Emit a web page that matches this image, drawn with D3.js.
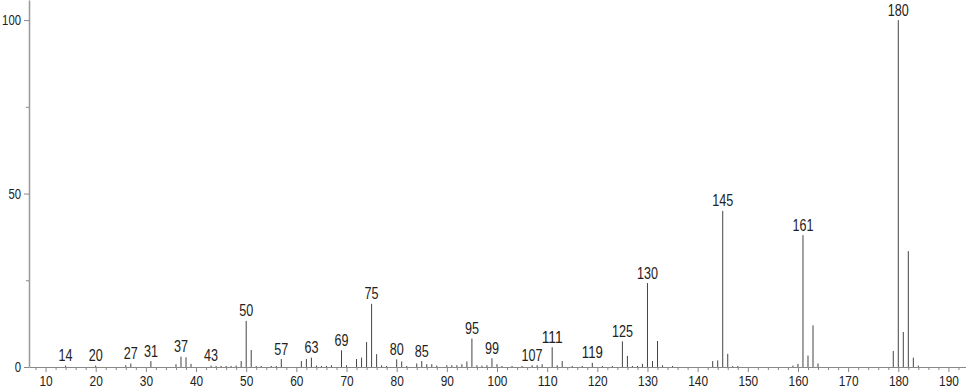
<!DOCTYPE html>
<html>
<head>
<meta charset="utf-8">
<script src="https://cdn.jsdelivr.net/npm/d3@7"></script>
<style>
  html, body { margin: 0; padding: 0; background: #fff; }
  svg text { font-family: "Liberation Sans", "DejaVu Sans", sans-serif; fill: #222; }
</style>
</head>
<body>
<div id="chart"></div>
<script>
// m/z values and relative intensities (%)
const masses = [14, 20, 26, 27, 31, 36, 37, 38, 39, 43, 44, 45, 46, 47, 48, 49, 50, 51, 52, 53, 55, 56, 57,
  61, 62, 63, 64, 65, 66, 67, 69, 70, 72, 73, 74, 75, 76, 77, 78, 80, 81, 82, 84, 85, 86, 87, 88,
  90, 91, 92, 93, 94, 95, 96, 97, 98, 99, 100, 101, 103, 105, 107, 108, 109, 111, 112, 113, 115, 117,
  119, 121, 123, 125, 126, 127, 128, 129, 130, 131, 132, 133, 135, 143, 144, 145, 146, 147, 148,
  159, 160, 161, 162, 163, 164, 179, 180, 181, 182, 183, 184];
const intensities = [0.4, 0.4, 0.5, 1.0, 1.7, 0.8, 3.0, 2.8, 0.9, 0.4, 0.3, 0.3, 0.3, 0.3, 0.4, 1.7, 13.3, 4.9, 0.3, 0.3, 0.3, 0.3, 2.3,
  1.7, 2.3, 2.7, 0.4, 0.3, 0.3, 0.5, 4.8, 0.5, 2.3, 2.7, 7.2, 18.2, 3.7, 0.5, 0.3, 2.2, 1.6, 0.3, 1.0, 1.7, 0.8, 0.8, 0.4,
  0.5, 0.5, 0.5, 0.8, 1.6, 8.2, 0.5, 0.4, 0.5, 2.5, 0.8, 0.3, 0.3, 0.3, 0.5, 0.5, 0.8, 5.7, 0.5, 1.7, 0.3, 0.3,
  1.2, 0.3, 0.3, 7.4, 3.2, 0.3, 0.3, 0.9, 24.2, 1.7, 7.5, 0.5, 0.3, 1.7, 1.9, 45.0, 3.8, 0.3, 0.3,
  0.4, 0.9, 38.0, 3.3, 12.0, 1.0, 4.6, 100, 10.1, 33.4, 2.7, 0.4];
const labelled = [14, 20, 27, 31, 37, 43, 50, 57, 63, 69, 75, 80, 85, 95, 99, 107, 111, 119, 125, 130, 145, 161, 180];
const xTicks = d3.range(10, 191, 10);
const xMinor = d3.range(8, 193, 2).filter(d => d % 10 !== 0);
const yTicks = [0, 50, 100];
const yMinor = [25, 75];

const width = 966;
const height = 389;

const peaks = masses.map((m, i) => ({ m: m, v: intensities[i] }));

// squeeze digits so they look like the narrow face of the original
function narrow(sel, perChar) {
  sel.each(function () {
    const t = d3.select(this);
    t.attr('textLength', t.text().length * perChar).attr('lengthAdjust', 'spacingAndGlyphs');
  });
}

const svg = d3.select('#chart')
  .append('svg')
  .attr('width', width)
  .attr('height', height);

const x = d3.scaleLinear().domain([6.7, 193.5]).range([29, 966]);
const y = d3.scaleLinear().domain([0, 105.8]).range([367, 0]);

// minor ticks first, then main axes on top
svg.append('g')
  .attr('transform', 'translate(0,367)')
  .call(d3.axisBottom(x).tickValues(xMinor).tickSize(3).tickFormat(''))
  .call(g => g.select('.domain').remove())
  .call(g => g.selectAll('line').attr('stroke', '#888'));

svg.append('g')
  .attr('transform', 'translate(29,0)')
  .call(d3.axisLeft(y).tickValues(yMinor).tickSize(3).tickFormat(''))
  .call(g => g.select('.domain').remove())
  .call(g => g.selectAll('line').attr('stroke', '#888'));

svg.append('g')
  .attr('transform', 'translate(0,367)')
  .call(d3.axisBottom(x).tickValues(xTicks).tickSize(5).tickSizeOuter(0))
  .call(g => g.select('.domain').attr('stroke', '#888'))
  .call(g => g.selectAll('line').attr('stroke', '#888'))
  .call(g => g.selectAll('text').attr('font-size', 15).attr('fill', '#222').call(narrow, 6.6));

svg.append('g')
  .attr('transform', 'translate(29,0)')
  .call(d3.axisLeft(y).tickValues(yTicks).tickSize(5).tickSizeOuter(0))
  .call(g => g.select('.domain').attr('stroke', '#999').attr('stroke-width', 1.5))
  .call(g => g.selectAll('line').attr('stroke', '#888'))
  .call(g => g.selectAll('text').attr('font-size', 15).attr('fill', '#222').call(narrow, 6.3));

// peaks
svg.selectAll('.peak')
  .data(peaks)
  .join('line')
  .attr('class', 'peak')
  .attr('x1', d => x(d.m))
  .attr('x2', d => x(d.m))
  .attr('y1', y(0))
  .attr('y2', d => y(d.v))
  .attr('stroke', '#444')
  .attr('stroke-width', 1);

// peak labels
svg.selectAll('.plabel')
  .data(peaks.filter(d => labelled.includes(d.m)))
  .join('text')
  .attr('class', 'plabel')
  .attr('x', d => x(d.m))
  .attr('y', d => y(d.v) - 4.5)
  .attr('text-anchor', 'middle')
  .attr('font-size', 16)
  .text(d => d.m)
  .call(narrow, 7);
</script>
</body>
</html>
